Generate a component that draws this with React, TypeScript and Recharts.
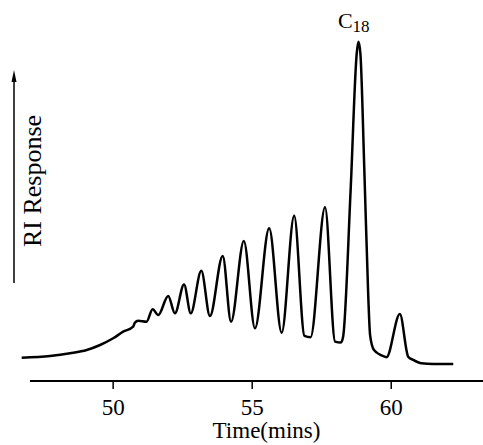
import React from 'react';
import { LineChart, Line, XAxis, YAxis, ReferenceLine, ReferenceDot } from 'recharts';

// retention time (min) and RI response
const times = [
  46.71, 47.73, 48.45, 49.05, 49.53, 50.0, 50.36, 50.72, 50.78, 50.9, 51.2,
  51.42, 51.62, 51.98, 52.22, 52.55, 52.79, 53.17, 53.48, 53.94, 54.24,
  54.7, 55.1, 55.61, 56.06, 56.51, 56.88, 57.1, 57.62, 57.98, 58.19, 58.27, 58.54,
  58.76, 58.82, 58.89, 59.03, 59.17, 59.24, 59.38, 59.77, 59.83, 60.31,
  60.61, 60.79, 61.09, 61.51, 62.23,
];
const response = [
  6.85, 7.35, 8.15, 9.12, 10.59, 12.56, 14.5, 15.97, 17.15, 17.74, 17.44,
  21.1, 19.4, 25.0, 19.9, 28.4, 19.9, 32.4, 19.1, 36.8, 17.4,
  41.2, 15.5, 44.9, 14.2, 48.6, 13.3, 12.9, 51.1, 11.6, 11.3, 13.0, 56.2,
  96.4, 99.8, 96.4, 62.8, 25.8, 13.5, 9.1, 7.15, 7.0, 19.7,
  7.15, 6.2, 5.2, 5.0, 4.97,
];
const timeTicks = [50, 55, 60];
const peakTime = 58.82;
const peakResponse = 99.8;
const peakName = 'C';
const peakSub = '18';

const data = times.map((t, i) => ({ t, r: response[i] }));
const serif = '"Liberation Serif", "Times New Roman", serif';

const PeakLabel = (props: any) => {
  const vb = props.viewBox || {};
  const x = vb.x + (vb.width || 0) / 2;
  const y = vb.y + (vb.height || 0) / 2;
  return (
    <text x={x - 20.5} y={y - 14} fontFamily={serif} fontSize={22} fill="#000">
      {peakName}
      <tspan fontSize={17} dy={4}>{peakSub}</tspan>
    </text>
  );
};

export default function App() {
  return (
    <div style={{ position: 'absolute', left: 0, top: 0, width: 483, height: 445, background: '#fff' }}>
      <LineChart width={483} height={445} data={data} margin={{ top: 41, right: 0, bottom: 0, left: 20 }}>
        <XAxis
          dataKey="t"
          type="number"
          domain={[46.65, 63.3]}
          allowDataOverflow
          ticks={timeTicks}
          axisLine={false}
          tickLine={{ stroke: '#000', strokeWidth: 1.5 }}
          tickSize={8}
          tickMargin={10}
          height={64}
          tick={{ fill: '#000', fontSize: 23, fontFamily: serif }}
          label={{ value: 'Time(mins)', position: 'insideBottom', offset: 7, dx: 15, fill: '#000', fontSize: 23, fontFamily: serif }}
        />
        <YAxis domain={[0, 100]} hide width={20} />
        <ReferenceLine
          segment={[{ x: 47.01, y: 0 }, { x: 63.3, y: 0 }]}
          stroke="#000"
          strokeWidth={2}
          ifOverflow="visible"
        />
        <Line
          type="monotone"
          dataKey="r"
          stroke="#000"
          strokeWidth={2.5}
          dot={false}
          isAnimationActive={false}
        />
        <ReferenceDot x={peakTime} y={peakResponse} r={0} ifOverflow="visible" label={<PeakLabel />} />
        <g>
          <line x1={14} y1={283} x2={14} y2={80} stroke="#000" strokeWidth={1.5} />
          <polygon points="11.5,82 16.5,82 14,70" fill="#000" />
          <text
            x={0}
            y={0}
            transform="translate(41,181) rotate(-90)"
            textAnchor="middle"
            fontFamily={serif}
            fontSize={26}
            fill="#000"
          >
            RI Response
          </text>
        </g>
      </LineChart>
    </div>
  );
}
